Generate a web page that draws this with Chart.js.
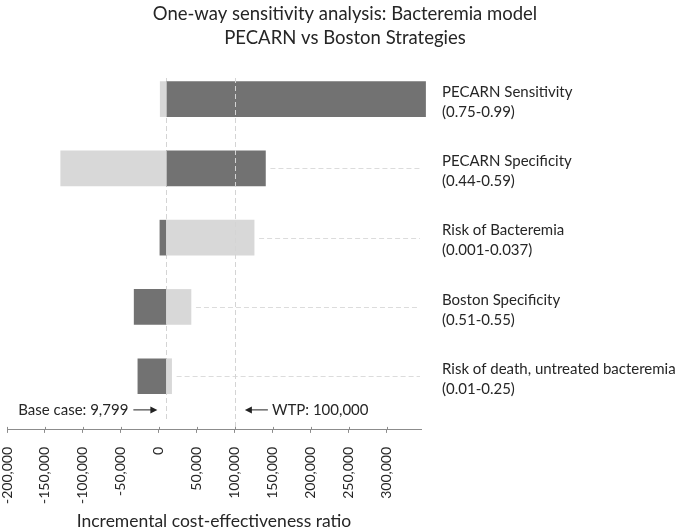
<!DOCTYPE html>
<html>
<head>
<meta charset="utf-8">
<script src="https://cdn.jsdelivr.net/npm/chart.js@4.4.0/dist/chart.umd.min.js"></script>
<style>
  html, body { margin: 0; padding: 0; background: #fff; }
</style>
</head>
<body>
<canvas id="c" width="685" height="532"></canvas>
<script>
const params = ["PECARN Sensitivity", "PECARN Specificity", "Risk of Bacteremia", "Boston Specificity", "Risk of death, untreated bacteremia"];
const ranges = ["(0.75-0.99)", "(0.44-0.59)", "(0.001-0.037)", "(0.51-0.55)", "(0.01-0.25)"];
const baseCase = 9799;
const wtp = 100000;
// both bars of a row start at the base case ICER
const lightEnd = [1700, -129300, 125300, 42200, 16700];
const darkEnd = [351000, 140200, 1300, -32600, -27700];
const xTicks = [-200000, -150000, -100000, -50000, 0, 50000, 100000, 150000, 200000, 250000, 300000];

const FONT = "Lato";
const TEXT = "#262626";
const AXIS = "#8c8c8c";

const toBars = ends => ends.map((v, i) => ({ x: [baseCase, v], y: i }));

function arrow(ctx, x1, x2, y) {
  const dir = x2 > x1 ? 1 : -1;
  ctx.beginPath();
  ctx.moveTo(x1, y);
  ctx.lineTo(x2 - dir * 6, y);
  ctx.stroke();
  ctx.beginPath();
  ctx.moveTo(x2, y);
  ctx.lineTo(x2 - dir * 7, y - 3.5);
  ctx.lineTo(x2 - dir * 7, y + 3.5);
  ctx.closePath();
  ctx.fill();
}

const overlay = {
  id: "overlay",
  beforeDatasetsDraw(chart) {
    const { ctx, chartArea, scales: { x, y } } = chart;
    ctx.save();
    ctx.strokeStyle = "#d4d4d4";
    ctx.lineWidth = 1;
    ctx.setLineDash([5, 3]);
    // base case line
    const bx = Math.round(x.getPixelForValue(baseCase)) + 0.5;
    ctx.beginPath();
    ctx.moveTo(bx, chartArea.top + 8);
    ctx.lineTo(bx, chartArea.bottom - 10);
    ctx.stroke();
    // leader lines to the labels
    ctx.strokeStyle = "#dcdcdc";
    for (let i = 0; i < params.length; i++) {
      const end = Math.max(lightEnd[i], darkEnd[i], baseCase);
      const px = x.getPixelForValue(end) + 5;
      if (px >= chartArea.right - 5) continue;
      const py = Math.round(y.getPixelForValue(i)) + 0.5;
      ctx.beginPath();
      ctx.moveTo(px, py);
      ctx.lineTo(chartArea.right - 1, py);
      ctx.stroke();
    }
    ctx.restore();
  },
  afterDatasetsDraw(chart) {
    const { ctx, chartArea, scales: { x, y } } = chart;
    ctx.save();
    // WTP line, drawn over the bars
    ctx.strokeStyle = "#d4d4d4";
    ctx.lineWidth = 1;
    ctx.setLineDash([5, 3]);
    const wx = Math.round(x.getPixelForValue(wtp)) + 0.5;
    ctx.beginPath();
    ctx.moveTo(wx, chartArea.top + 8);
    ctx.lineTo(wx, chartArea.bottom - 2);
    ctx.stroke();
    ctx.setLineDash([]);

    // tick marks poke a little above the axis too
    ctx.strokeStyle = AXIS;
    xTicks.forEach(v => {
      const tx = Math.round(x.getPixelForValue(v)) + 0.5;
      ctx.beginPath();
      ctx.moveTo(tx, chartArea.bottom - 3);
      ctx.lineTo(tx, chartArea.bottom);
      ctx.stroke();
    });

    // parameter labels
    ctx.fillStyle = TEXT;
    ctx.font = "15px " + FONT;
    ctx.textAlign = "left";
    ctx.textBaseline = "middle";
    for (let i = 0; i < params.length; i++) {
      const py = y.getPixelForValue(i);
      ctx.fillText(params[i], chartArea.right + 21, py - 7);
      ctx.fillText(ranges[i], chartArea.right + 21, py + 13);
    }

    // annotations
    const bpx = x.getPixelForValue(baseCase);
    const ay = chartArea.bottom - 20;
    ctx.textAlign = "right";
    ctx.fillText("Base case: " + baseCase.toLocaleString("en-US"), bpx - 38, ay);
    ctx.strokeStyle = "#222";
    ctx.fillStyle = "#222";
    arrow(ctx, bpx - 33, bpx - 9, ay);
    const wpx = x.getPixelForValue(wtp);
    arrow(ctx, wpx + 33, wpx + 10, ay);
    ctx.fillStyle = TEXT;
    ctx.textAlign = "left";
    ctx.fillText("WTP: " + wtp.toLocaleString("en-US"), wpx + 37, ay);

    // title
    ctx.font = "18.5px " + FONT;
    ctx.textAlign = "center";
    ctx.fillText("One-way sensitivity analysis: Bacteremia model", 345, 14);
    ctx.fillText("PECARN vs Boston Strategies", 345, 38);
    ctx.restore();
  }
};

new Chart(document.getElementById("c"), {
  type: "bar",
  data: {
    datasets: [
      { label: "low", data: toBars(lightEnd), backgroundColor: "#d8d8d8", clip: 8 },
      { label: "high", data: toBars(darkEnd), backgroundColor: "#727272", clip: 8 }
    ]
  },
  options: {
    indexAxis: "y",
    responsive: false,
    animation: false,
    devicePixelRatio: 1,
    layout: { padding: { top: 70, right: 264, left: 0, bottom: 0 } },
    datasets: { bar: { grouped: false, barThickness: 35 } },
    plugins: { legend: { display: false }, tooltip: { enabled: false } },
    scales: {
      y: {
        type: "linear", reverse: true, offset: false, min: -0.42, max: 4.775,
        ticks: { display: false },
        grid: { display: false, drawTicks: false },
        border: { display: false },
        afterFit: s => { s.width = 0; }
      },
      x: {
        type: "linear",
        min: -200000,
        max: 345000,
        afterBuildTicks: s => { s.ticks = xTicks.map(v => ({ value: v })); },
        afterFit: s => { s.height -= 9; s.paddingLeft = 7; },
        ticks: {
          minRotation: 90, maxRotation: 90, autoSkip: false,
          color: TEXT, font: { family: FONT, size: 14 }, padding: 14,
          callback: v => v.toLocaleString("en-US")
        },
        grid: { drawOnChartArea: false, tickLength: 3, color: AXIS },
        border: { color: AXIS },
        title: {
          display: true, text: "Incremental cost-effectiveness ratio",
          color: TEXT, font: { family: FONT, size: 17.5 }, padding: { top: 2, bottom: 0 }
        }
      }
    }
  },
  plugins: [overlay]
});
</script>
</body>
</html>
